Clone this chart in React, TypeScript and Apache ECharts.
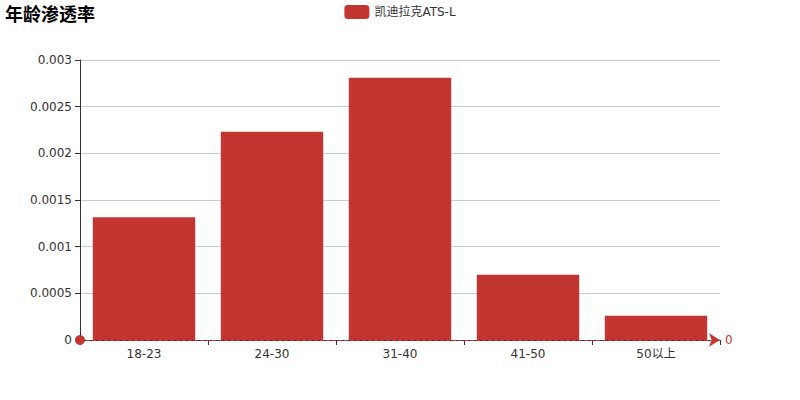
import React, { useEffect, useRef } from "react";
import * as echarts from "echarts";

const categories = ["18-23", "24-30", "31-40", "41-50", "50以上"];
const seriesName = "凯迪拉克ATS-L";
const values = [0.001315, 0.002232, 0.00281, 0.0007, 0.00026];
const titleText = "年龄渗透率";

export default function App() {
  const ref = useRef<HTMLDivElement>(null);
  useEffect(() => {
    document.body.style.margin = "0";
    if (!ref.current) return;
    const chart = echarts.init(ref.current, undefined, { renderer: "svg" });
    chart.setOption({
      animation: false,
      color: ["#c23531"],
      textStyle: { fontFamily: "DejaVu Sans, Noto Sans CJK SC, sans-serif" },
      title: {
        text: titleText,
        left: 5,
        top: 4,
        padding: 0,
        textStyle: { fontSize: 18, fontWeight: "bold", color: "#000", fontFamily: "Noto Sans CJK SC, sans-serif" },
      },
      legend: {
        data: [seriesName],
        top: 5,
        padding: 0,
        left: "center",
        itemWidth: 25,
        itemHeight: 14,
        textStyle: { fontSize: 12, color: "#333" },
      },
      grid: { left: 80, right: 80, top: 60, bottom: 60 },
      xAxis: {
        type: "category",
        data: categories,
        axisLine: { lineStyle: { color: "#333" } },
        axisTick: { show: true, alignWithLabel: false },
        axisLabel: { color: "#333", fontSize: 12 },
      },
      yAxis: {
        type: "value",
        min: 0,
        max: 0.003,
        interval: 0.0005,
        axisLine: { show: true, lineStyle: { color: "#333" } },
        axisTick: { show: true },
        axisLabel: { color: "#333", fontSize: 12 },
        splitLine: { show: true, lineStyle: { color: "#ccc" } },
      },
      series: [
        {
          name: seriesName,
          type: "bar",
          data: values,
          clip: false,
          barCategoryGap: "20%",
          markLine: {
            symbol: ["circle", "arrow"],
            symbolSize: [10, 11],
            data: [{ yAxis: 0 }],
            label: { show: true, position: "end", color: "#c23531" },
            lineStyle: { type: "dashed", color: "#c23531" },
          },
        },
      ],
    });
    return () => chart.dispose();
  }, []);
  return <div ref={ref} style={{ width: 800, height: 400 }} />;
}
